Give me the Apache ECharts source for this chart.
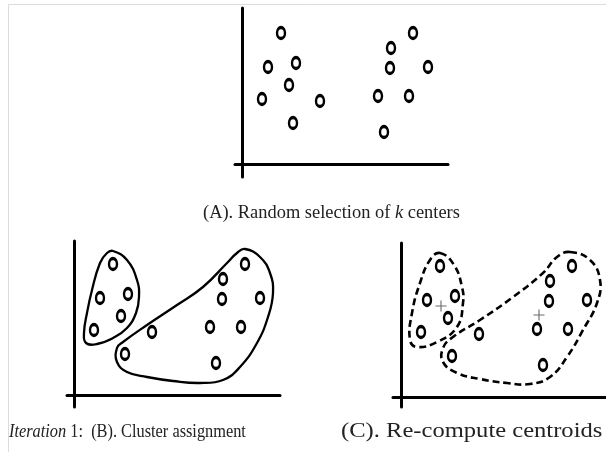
<!DOCTYPE html>
<html>
<head>
<meta charset="utf-8">
<script src="https://cdn.jsdelivr.net/npm/echarts@6/dist/echarts.min.js"></script>
<style>html,body{margin:0;padding:0;background:#fff;}#c{width:606px;height:452px;}</style>
</head>
<body>
<div id="c"></div>
<script>
// Shared data points (same in all three panels)
var pointX = [39, 26, 54, 47, 20, 78, 51, 171, 149, 148, 186, 136, 167, 142];
var pointY = [131, 97, 101, 79, 65, 63, 41, 131, 116, 96, 97, 68, 68, 32];

// Panel B cluster outlines (solid)
var outlineB1X = [39, 53, 63, 65, 62, 53, 39, 23, 12, 10, 13, 18, 26, 33];
var outlineB1Y = [144, 135, 115, 98, 82, 67, 57, 51, 52, 62, 82, 105, 132, 142];
var outlineB2X = [171, 186, 196, 199, 194, 183, 166, 149, 126, 99, 73, 53, 43, 43, 49, 73, 103, 129, 153, 163];
var outlineB2Y = [146, 138, 122, 102, 78, 52, 28, 15, 12, 14, 18, 23, 33, 47, 53, 70, 90, 108, 132, 142];

// Panel C cluster outlines (dashed)
var outlineC1X = [39, 53, 61, 62, 56, 36, 16, 9, 11, 19, 29];
var outlineC1Y = [144, 132, 110, 94, 70, 55, 50, 57, 84, 114, 137];
var outlineC2X = [169, 189, 199, 196, 182, 166, 149, 129, 106, 79, 56, 42, 42, 52, 79, 112, 142, 156];
var outlineC2Y = [145, 137, 117, 94, 67, 40, 20, 13, 14, 18, 24, 35, 49, 60, 77, 100, 124, 140];

// Panel C recomputed centroids
var centroidX = [40, 138];
var centroidY = [91, 82];

// Captions
var captionA = '(A). Random selection of {i|k} centers';
var captionB = '{i|Iteration} 1:  (B). Cluster assignment';
var captionC = '(C). Re-compute centroids';

function zipXY(xs, ys) { return xs.map(function (x, i) { return [x, ys[i]]; }); }

var chart = echarts.init(document.getElementById('c'), null, {renderer: 'canvas'});

var axisCommon = {
  type: 'value',
  axisLine: {show: true, onZero: true, lineStyle: {color: '#000', width: 3}},
  axisTick: {show: false},
  axisLabel: {show: false},
  splitLine: {show: false}
};
function xAx(idx, min, max) { return Object.assign({}, axisCommon, {gridIndex: idx, min: min, max: max}); }
function yAx(idx, min, max) { return Object.assign({}, axisCommon, {gridIndex: idx, min: min, max: max}); }

var pointStyle = {
  type: 'scatter', symbol: 'circle', symbolSize: [8, 11],
  itemStyle: {color: '#fff', borderColor: '#000', borderWidth: 2.8, opacity: 1},
  silent: true, z: 5
};

function outlineSeries(axIdx, xs, ys, dashed) {
  var pts = zipXY(xs, ys);
  return {
    type: 'custom', xAxisIndex: axIdx, yAxisIndex: axIdx, silent: true, z: 3,
    data: [[xs[0], ys[0]]],
    renderItem: function (params, api) {
      var p = pts.map(function (d) { return api.coord(d); });
      return {
        type: 'polygon',
        shape: {points: p, smooth: 0.45},
        style: {fill: 'none', stroke: '#000', lineWidth: dashed ? 2.6 : 2.3, lineDash: dashed ? [7, 4] : null}
      };
    }
  };
}

function caption(text, x, y, sx, fs) {
  return {
    type: 'text', x: x, y: y, scaleX: sx, originX: 0, originY: 0, silent: true,
    style: {text: text, align: 'left', verticalAlign: 'middle',
      fontFamily: 'Liberation Serif', fontSize: fs, fill: '#222',
      rich: {i: {fontStyle: 'italic', fontFamily: 'Liberation Serif', fontSize: fs, fill: '#222'}}}
  };
}

var option = {
  animation: false,
  backgroundColor: '#fff',
  grid: [
    {left: 235, top: 8, width: 213, height: 169},
    {left: 67, top: 241, width: 213, height: 166},
    {left: 393, top: 243, width: 213, height: 164}
  ],
  xAxis: [xAx(0, -7, 206), xAx(1, -7, 206), xAx(2, -8, 205)],
  yAxis: [yAx(0, -13, 156), yAx(1, -12, 154), yAx(2, -10, 154)],
  series: [
    Object.assign({}, pointStyle, {xAxisIndex: 0, yAxisIndex: 0, data: zipXY(pointX, pointY)}),
    Object.assign({}, pointStyle, {xAxisIndex: 1, yAxisIndex: 1, data: zipXY(pointX, pointY)}),
    Object.assign({}, pointStyle, {xAxisIndex: 2, yAxisIndex: 2, data: zipXY(pointX, pointY)}),
    outlineSeries(1, outlineB1X, outlineB1Y, false),
    outlineSeries(1, outlineB2X, outlineB2Y, false),
    outlineSeries(2, outlineC1X, outlineC1Y, true),
    outlineSeries(2, outlineC2X, outlineC2Y, true),
    {
      type: 'scatter', xAxisIndex: 2, yAxisIndex: 2, silent: true, z: 6,
      symbol: 'path://M4.5,0h1v10h-1zM0,4.5h10v1h-10z', symbolSize: 11,
      itemStyle: {color: '#444'},
      data: zipXY(centroidX, centroidY)
    }
  ],
  graphic: [
    {type: 'rect', silent: true, shape: {x: 8.5, y: 4.5, width: 700, height: 600},
      style: {fill: 'none', stroke: '#dcdcdc', lineWidth: 1}},
    caption(captionA, 203, 213, 0.97, 19),
    caption(captionB, 9, 432, 0.86, 19),
    caption(captionC, 341, 431, 1.17, 21)
  ]
};
chart.setOption(option);
</script>
</body>
</html>
